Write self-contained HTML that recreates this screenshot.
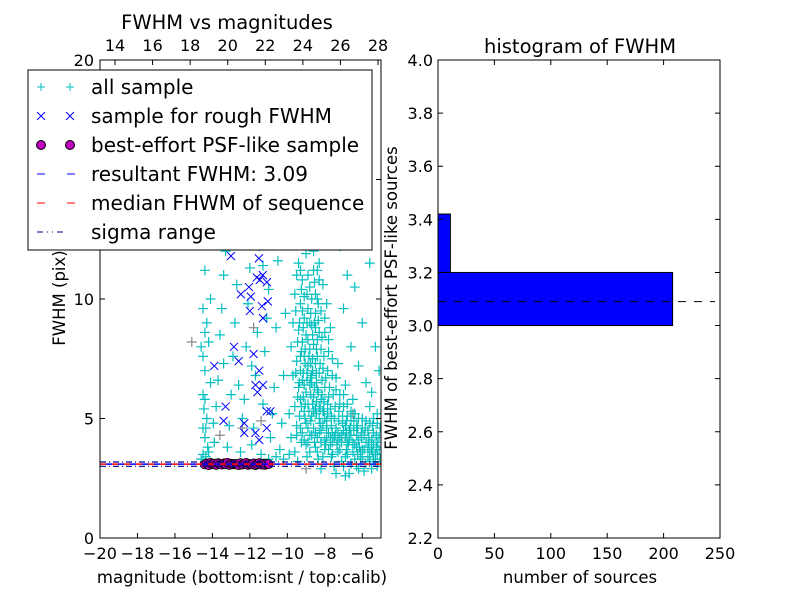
<!DOCTYPE html>
<html><head><meta charset="utf-8"><style>
body{margin:0;background:#fff;}
svg text{font-family:"DejaVu Sans","Liberation Sans",sans-serif;}
</style></head><body>
<svg id="fig" width="800" height="600" xmlns="http://www.w3.org/2000/svg">
<rect width="800" height="600" fill="#fff"/>
<g id="left"></g>
<g id="right"></g>
</svg>
<script>
// ---- data: scatter ----
const cyanPts = [[-9.4,11.5],[-9.2,10.8],[-9.0,11.9],[-8.8,10.5],[-8.6,11.2],[-8.4,10.0],[-9.3,9.8],[-9.1,9.2],[-8.9,9.6],[-8.7,8.9],[-8.5,9.4],[-8.3,8.6],[-9.4,8.7],[-9.2,8.2],[-9.0,8.5],[-8.8,7.9],[-8.6,8.1],[-8.4,7.6],[-8.2,7.9],[-9.5,7.4],[-9.3,7.0],[-9.1,7.6],[-8.9,7.2],[-8.7,6.8],[-8.5,7.3],[-8.3,6.9],[-8.1,7.1],[-9.4,6.3],[-9.2,6.6],[-9.0,6.1],[-8.8,6.4],[-8.6,5.9],[-8.4,6.2],[-8.2,5.8],[-8.0,6.3],[-7.8,5.9],[-9.6,5.5],[-9.3,5.8],[-9.1,5.3],[-8.9,5.6],[-8.7,5.1],[-8.5,5.4],[-8.3,5.0],[-8.1,5.3],[-7.9,4.9],[-7.7,5.4],[-7.5,5.0],[-9.5,4.7],[-9.2,4.4],[-9.0,4.8],[-8.8,4.3],[-8.6,4.6],[-8.4,4.2],[-8.2,4.5],[-8.0,4.1],[-7.8,4.4],[-7.6,4.0],[-7.4,4.6],[-7.2,4.2],[-7.0,4.5],[-6.8,4.0],[-6.6,4.3],[-6.4,3.9],[-6.2,4.1],[-6.0,3.7],[-5.8,4.0],[-5.6,3.6],[-5.4,3.9],[-5.2,3.5],[-5.1,4.2],[-7.3,3.6],[-6.9,3.4],[-6.5,3.6],[-6.1,3.3],[-5.7,3.4],[-5.3,3.2],[-7.8,3.7],[-8.5,3.8],[-9.0,3.9],[-9.6,3.6],[-8.1,3.4],[-7.1,3.2],[-6.3,3.0],[-5.5,2.9],[-7.5,3.0],[-6.7,2.7],[-5.9,2.8],[-8.2,2.9],[-7.9,9.8],[-8.1,10.6],[-7.8,8.3],[-7.6,7.5],[-7.4,6.7],[-7.2,6.0],[-7.0,5.5],[-6.8,5.1],[-6.6,4.9],[-6.3,4.7],[-6.0,4.6],[-5.7,4.5],[-5.4,4.4],[-5.2,5.2],[-5.6,5.5],[-6.5,5.8],[-6.9,6.4],[-7.3,7.3],[-7.7,8.8],[-8.0,9.2],[-8.3,11.5],[-8.7,12.4],[-9.1,12.9],[-9.6,10.2],[-9.8,8.0],[-9.7,6.8],[-9.9,5.2],[-9.8,4.2],[-9.9,3.5],[-9.7,9.0],[-8.95,10.2],[-8.55,10.7],[-8.65,7.5],[-8.95,6.9],[-9.15,5.9],[-8.45,5.7],[-8.75,4.9],[-9.35,5.1],[-8.25,4.8],[-8.05,5.7],[-7.85,5.2],[-7.65,4.7],[-7.45,4.3],[-7.25,4.9],[-7.05,4.8],[-6.85,4.4],[-6.45,4.5],[-6.05,4.2],[-5.65,4.0],[-5.25,3.8],[-6.25,3.5],[-6.85,3.7],[-7.65,3.4],[-8.35,3.3],[-8.95,3.4],[-9.45,3.2],[-8.15,6.6],[-8.45,6.5],[-8.75,6.0],[-9.05,5.0],[-9.25,4.0],[-8.55,4.0],[-7.95,3.9],[-7.35,3.9],[-6.75,3.9],[-6.15,3.8],[-5.45,3.6],[-5.05,3.3],[-8.65,8.5],[-8.35,9.8],[-9.25,10.4],[-8.85,13.6],[-8.35,14.5],[-8.0,12.8],[-7.6,13.5],[-7.2,12.2],[-6.8,11.0],[-7.0,9.6],[-6.6,8.0],[-6.2,7.2],[-5.8,6.5],[-5.5,6.1],[-6.0,9.0],[-6.4,10.5],[-7.3,15.0],[-7.8,16.2],[-8.6,15.8],[-9.2,14.2],[-9.5,13.0],[-6.9,14.0],[-6.2,12.8],[-5.6,11.5],[-5.3,8.0],[-5.1,7.0],[-9.0,17.5],[-8.3,18.0],[-7.5,19.0],[-6.5,17.0],[-8.9,8.3],[-9.05,7.9],[-8.75,7.3],[-8.45,6.9],[-9.1,6.4],[-8.6,5.3],[-8.3,5.5],[-8.9,4.6],[-8.5,4.4],[-8.2,4.0],[-7.9,4.6],[-7.6,4.4],[-7.3,4.4],[-7.1,4.0],[-6.9,4.7],[-6.7,4.5],[-6.3,4.3],[-5.9,4.3],[-5.5,4.1],[-5.2,4.0],[-9.2,9.5],[-8.8,9.0],[-8.5,8.8],[-8.4,8.3],[-9.3,7.6],[-8.7,6.5],[-8.0,5.0],[-7.7,4.2],
[-9.5,11.0],[-9.3,11.2],[-9.1,10.1],[-8.9,11.0],[-8.7,10.0],[-8.5,10.2],[-8.3,10.8],[-9.55,9.5],[-9.35,9.0],[-9.15,8.8],[-8.95,9.0],[-8.75,9.4],[-8.55,9.0],[-8.35,9.1],[-8.15,8.4],[-9.45,8.2],[-9.25,7.8],[-9.05,7.3],[-8.85,7.6],[-8.65,7.0],[-8.45,7.9],[-8.25,7.3],[-8.05,7.6],[-7.85,7.0],[-9.55,6.9],[-9.35,6.5],[-9.15,6.9],[-8.95,6.6],[-8.75,6.7],[-8.55,6.3],[-8.35,6.1],[-8.15,6.0],[-7.95,6.7],[-7.75,6.3],[-7.55,6.0],[-9.45,5.9],[-9.25,5.5],[-9.05,5.6],[-8.85,5.3],[-8.65,5.6],[-8.45,5.2],[-8.25,5.4],[-8.05,5.3],[-7.85,5.6],[-7.65,5.1],[-7.45,5.5],[-7.25,5.3],[-7.05,5.1],[-6.85,4.9],[-6.65,4.6],[-6.45,4.9],[-6.25,4.6],[-6.05,4.4],[-5.85,4.6],[-5.65,4.2],[-5.45,4.7],[-5.25,4.3],[-5.05,4.6],[-9.5,4.3],[-9.3,4.6],[-9.1,4.1],[-8.9,4.0],[-8.7,4.3],[-8.3,4.4],[-8.1,4.7],[-7.9,4.2],[-7.7,3.9],[-7.5,4.2],[-7.3,4.1],[-7.1,4.3],[-6.9,4.2],[-6.7,4.1],[-6.5,4.0],[-6.3,3.8],[-6.1,3.6],[-5.9,3.7],[-5.7,3.8],[-5.5,3.7],[-5.3,3.5],[-5.1,3.7],[-7.6,3.5],[-7.2,3.7],[-6.8,3.5],[-6.4,3.3],[-6.0,3.4],[-5.6,3.2],[-5.2,3.0],[-7.0,3.0],[-6.6,3.1],[-6.2,2.9],[-5.8,3.1],[-5.4,3.3],[-8.8,3.6],[-8.4,3.6],[-8.0,3.7],[-7.4,2.7],[-6.9,2.6],[-8.6,12.0],[-8.4,11.2],[-8.9,12.6],[-8.2,9.5],[-8.0,8.6],[-7.8,7.8],[-7.6,6.8],[-7.4,6.2],[-7.2,5.6],[-7.0,6.0],[-6.8,5.6],[-6.6,5.3],[-6.4,5.2],[-6.2,5.0],[-6.0,5.0],[-5.8,4.9],[-5.6,4.8],[-5.4,5.0],[-5.2,4.8],
[-14.5,3.5],[-14.4,4.2],[-14.3,5.0],[-14.5,6.0],[-14.4,7.0],[-14.2,8.2],[-14.3,9.0],[-14.1,10.0],[-14.4,11.2],[-14.2,12.5],[-14.0,13.5],[-13.9,4.0],[-13.8,5.5],[-13.7,6.6],[-13.6,8.5],[-13.5,9.6],[-13.4,11.0],[-13.3,12.0],[-13.2,3.8],[-13.1,4.7],[-13.0,6.0],[-12.9,7.6],[-12.8,9.0],[-12.7,10.6],[-12.6,12.8],[-12.5,3.6],[-12.4,5.0],[-12.3,5.8],[-12.2,8.0],[-12.1,9.8],[-12.0,11.3],[-11.9,3.9],[-11.8,4.6],[-11.7,6.8],[-11.6,8.6],[-11.5,12.2],[-11.4,3.5],[-11.3,5.6],[-11.2,7.8],[-11.1,9.2],[-11.0,10.4],[-10.9,4.2],[-10.8,5.2],[-10.7,6.3],[-10.6,8.8],[-10.5,11.6],[-10.4,3.7],[-10.3,4.8],[-10.2,6.8],[-10.1,9.4],[-10.0,12.4],[-10.2,3.3],[-10.6,3.4],[-11.0,3.3],[-14.6,3.3],[-14.1,6.5],[-13.4,7.3],[-12.6,6.4],[-11.9,7.2],[-11.3,11.4],[-10.8,13.0],[-12.9,13.8],[-13.7,12.8],[-14.5,9.6],[-14.6,8.0],[-14.45,5.4],[-14.35,4.6],[-14.25,3.8],[-13.95,4.8],[-14.5,4.6],[-14.4,5.8],[-14.5,7.6],[-14.4,8.6],[-14.35,3.4],[-14.2,3.6]];
const grayPts = [[-15.1,8.2],[-12.4,4.6],[-11.8,8.8],[-9.0,2.9],[-6.5,5.2],[-10.3,13.0],[-13.6,4.3],[-11.4,4.9]];
const roughX = [-13.01,-11.52,-11.63,-11.31,-11.47,-12.05,-12.48,-11.95,-11.09,-11.04,-11.36,-12.0,-11.3,-12.85,-11.8,-12.6,-13.9,-11.5,-11.7,-11.3,-11.6,-13.3,-13.4,-11.1,-10.9,-12.3,-12.3,-11.7,-11.1,-11.5];
const roughY = [11.8,11.7,10.9,11.0,10.8,10.5,10.2,10.1,10.7,9.9,9.7,9.5,9.2,8.0,7.7,7.4,7.2,7.0,6.4,6.4,6.1,5.5,4.9,5.3,5.3,4.8,4.4,4.4,4.6,4.1];
const psfX = [-14.4,-14.3,-14.2,-14.1,-14.0,-13.9,-13.8,-13.7,-13.6,-13.5,-13.4,-13.3,-13.2,-13.1,-13.0,-12.9,-12.8,-12.7,-12.6,-12.5,-12.4,-12.3,-12.2,-12.1,-12.0,-11.9,-11.8,-11.7,-11.6,-11.5,-11.4,-11.3,-11.2,-11.1,-11.0];
const psfY = [3.08,3.12,3.05,3.14,3.09,3.11,3.06,3.13,3.10,3.07,3.12,3.09,3.15,3.06,3.11,3.08,3.10,3.09,3.05,3.13,3.07,3.11,3.14,3.06,3.10,3.08,3.12,3.05,3.09,3.13,3.07,3.11,3.06,3.10,3.09];
const resultFWHM = 3.09, medianFWHM = 3.09, sigmaLo = 3.0, sigmaHi = 3.18;
const xTicksBottom = [-20,-18,-16,-14,-12,-10,-8,-6];
const xTicksTop = [14,16,18,20,22,24,26,28];
const yTicksLeft = [0,5,10,15,20];
// ---- data: histogram ----
const binEdges = [3.0,3.2,3.42];
const binCounts = [208,11];
const histYTicks = [2.2,2.4,2.6,2.8,3.0,3.2,3.4,3.6,3.8,4.0];
const histXTicks = [0,50,100,150,200,250];

const NS='http://www.w3.org/2000/svg';
function mk(parent,tag,attrs,name,text){const e=document.createElementNS(NS,tag);for(const k in attrs)e.setAttribute(k,attrs[k]);


if(text!==undefined)e.textContent=text;parent.appendChild(e);return e;}
const L=document.getElementById('left'), R=document.getElementById('right');
const FS=16;
// left axes
const lx0=100,lx1=381,ly0=60,ly1=538;
const sx=v=>lx0+(v+20)/15*(lx1-lx0);
const sxt=v=>115+(v-14)/14*(378-115);
const sy=v=>ly1-v/20*(ly1-ly0);
mk(L,'rect',{x:lx0,y:ly0,width:lx1-lx0,height:ly1-ly0,fill:'#fff'},'plot-area');
const clip=mk(L,'clipPath',{id:'lc'},'clip');mk(clip,'rect',{x:lx0,y:ly0,width:lx1-lx0,height:ly1-ly0},'clip-rect');
const pts=mk(L,'g',{'clip-path':'url(#lc)'},'points');
function plus(x,y,c,name){mk(pts,'path',{d:`M${x-5},${y}h10M${x},${y-5}v10`,stroke:c,'stroke-width':1.2,fill:'none'},name);}
grayPts.forEach(p=>plus(sx(p[0]),sy(p[1]),'#888','gray-point'));
cyanPts.forEach(p=>plus(sx(p[0]),sy(p[1]),'#00bfbf','all-sample-point'));
roughX.forEach((v,i)=>{const x=sx(v),y=sy(roughY[i]);mk(pts,'path',{d:`M${x-4},${y-4}l8,8M${x-4},${y+4}l8,-8`,stroke:'#0000ff','stroke-width':1,fill:'none'},'rough-sample-point');});
psfX.forEach((v,i)=>mk(pts,'circle',{cx:sx(v),cy:sy(psfY[i]),r:4.5,fill:'#bf00bf',stroke:'#000','stroke-width':0.8},'psf-sample-point'));
mk(pts,'line',{x1:lx0,x2:lx1,y1:sy(sigmaLo),y2:sy(sigmaLo),stroke:'#00008b','stroke-dasharray':'6 3 1 3','stroke-width':1.2},'sigma-low-line');
mk(pts,'line',{x1:lx0,x2:lx1,y1:sy(sigmaHi),y2:sy(sigmaHi),stroke:'#00008b','stroke-dasharray':'6 3 1 3','stroke-width':1.2},'sigma-high-line');
mk(pts,'line',{x1:lx0,x2:lx1,y1:sy(medianFWHM),y2:sy(medianFWHM),stroke:'#ff0000','stroke-dasharray':'6 6','stroke-width':1.5},'median-line');
mk(pts,'line',{x1:lx0+6,x2:lx1,y1:sy(resultFWHM),y2:sy(resultFWHM),stroke:'#0000ff','stroke-dasharray':'6 6','stroke-width':1.5},'resultant-line');
mk(L,'rect',{x:lx0,y:ly0,width:lx1-lx0,height:ly1-ly0,fill:'none',stroke:'#000'},'left-frame');
xTicksBottom.forEach(v=>{const x=sx(v);mk(L,'path',{d:`M${x},${ly1}v-5`,stroke:'#000'},'x-tick');
mk(L,'text',{x:x,y:ly1+21,'font-size':FS,'text-anchor':'middle'},'x-tick-label',v<0?'\u2212'+(-v):v);});
xTicksTop.forEach(v=>{const x=sxt(v);mk(L,'path',{d:`M${x},${ly0}v5`,stroke:'#000'},'top-tick');
mk(L,'text',{x:x,y:ly0-9,'font-size':FS,'text-anchor':'middle'},'top-tick-label',v);});
yTicksLeft.forEach(v=>{const y=sy(v);mk(L,'path',{d:`M${lx0},${y}h5M${lx1},${y}h-5`,stroke:'#000'},'y-tick');
mk(L,'text',{x:lx0-6,y:y+6,'font-size':FS,'text-anchor':'end'},'y-tick-label',v);});
mk(L,'text',{x:227,y:29,'font-size':19.5,'text-anchor':'middle'},'left-title','FWHM vs magnitudes');
mk(L,'text',{x:242,y:583,'font-size':16.5,'text-anchor':'middle'},'x-axis-title','magnitude (bottom:isnt / top:calib)');
mk(L,'text',{x:0,y:0,'font-size':16.5,'text-anchor':'middle',transform:'translate(65,298) rotate(-90)'},'y-axis-title','FWHM (pix)');
// legend
const lg=mk(L,'g',{},'legend');
mk(lg,'rect',{x:28,y:70,width:344,height:180,fill:'#fff',stroke:'#000'},'legend-box');
const labels=['all sample','sample for rough FWHM','best-effort PSF-like sample','resultant FWHM: 3.09','median FHWM of sequence','sigma range'];
labels.forEach((t,i)=>{const y=87+i*29;
 if(i===0){[41,70].forEach(x=>mk(lg,'path',{d:`M${x-4},${y}h8M${x},${y-4}v8`,stroke:'#00bfbf'},'legend-marker'));}
 if(i===1){[41,70].forEach(x=>mk(lg,'path',{d:`M${x-4},${y-4}l8,8M${x-4},${y+4}l8,-8`,stroke:'#0000ff'},'legend-marker'));}
 if(i===2){[41,70].forEach(x=>mk(lg,'circle',{cx:x,cy:y,r:4.5,fill:'#bf00bf',stroke:'#000'},'legend-marker'));}
 if(i===3)mk(lg,'line',{x1:37,x2:75,y1:y,y2:y,stroke:'#0000ff','stroke-dasharray':'8 22'},'legend-line');
 if(i===4)mk(lg,'line',{x1:37,x2:75,y1:y,y2:y,stroke:'#ff0000','stroke-dasharray':'8 22'},'legend-line');
 if(i===5)mk(lg,'line',{x1:37,x2:75,y1:y,y2:y,stroke:'#00008b','stroke-dasharray':'6 4 1 4 1 4 6 40'},'legend-line');
 mk(lg,'text',{x:91,y:y+7,'font-size':20},'legend-entry',t);});
// right axes
const rx0=438,rx1=720,ry0=60,ry1=538;
const hx=v=>rx0+v/250*(rx1-rx0);
const hy=v=>ry1-(v-2.2)/1.8*(ry1-ry0);
mk(R,'rect',{x:rx0,y:ry0,width:rx1-rx0,height:ry1-ry0,fill:'#fff'},'hist-area');
binCounts.forEach((c,i)=>mk(R,'rect',{x:hx(0),y:hy(binEdges[i+1]),width:hx(c)-hx(0),height:hy(binEdges[i])-hy(binEdges[i+1]),fill:'#0000ff',stroke:'#000'},'hist-bar'));
mk(R,'line',{x1:rx0,x2:rx1-5,y1:hy(resultFWHM),y2:hy(resultFWHM),stroke:'#000','stroke-dasharray':'8 8'},'hist-fwhm-line');
mk(R,'rect',{x:rx0,y:ry0,width:rx1-rx0,height:ry1-ry0,fill:'none',stroke:'#000'},'right-frame');
histXTicks.forEach(v=>{const x=hx(v);mk(R,'path',{d:`M${x},${ry1}v-5M${x},${ry0}v5`,stroke:'#000'},'hist-x-tick');
mk(R,'text',{x:x,y:ry1+21,'font-size':FS,'text-anchor':'middle'},'hist-x-tick-label',v);});
histYTicks.forEach(v=>{const y=hy(v);mk(R,'path',{d:`M${rx0},${y}h5M${rx1},${y}h-5`,stroke:'#000'},'hist-y-tick');
mk(R,'text',{x:rx0-5,y:y+6,'font-size':FS,'text-anchor':'end'},'hist-y-tick-label',v.toFixed(1));});
mk(R,'text',{x:580,y:53,'font-size':19.5,'text-anchor':'middle'},'right-title','histogram of FWHM');
mk(R,'text',{x:580,y:583,'font-size':16.5,'text-anchor':'middle'},'hist-x-axis-title','number of sources');
mk(R,'text',{x:0,y:0,'font-size':16.5,'text-anchor':'middle',transform:'translate(397,298) rotate(-90)'},'hist-y-axis-title','FWHM of best-effort PSF-like sources');
</script>
</body></html>
